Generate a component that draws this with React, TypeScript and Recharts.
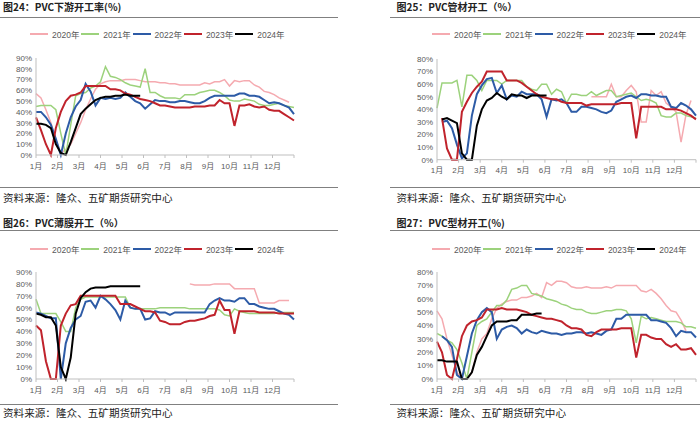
import React from 'react'
import { LineChart, Line, XAxis, YAxis } from 'recharts'

const months = ['1月', '2月', '3月', '4月', '5月', '6月', '7月', '8月', '9月', '10月', '11月', '12月']
const years = ['2020年', '2021年', '2022年', '2023年', '2024年']
const colors = ['#f5aab0', '#9cd27c', '#2d5ba6', '#c0232c', '#000000']
const widths = [1.5, 1.5, 2, 2, 2]

// weekly values, index = week of year (0..52); leading nulls where a year starts late
const at = (start: number, vals: number[]) => [...Array(start).fill(null), ...vals]

// 图24 PVC下游开工率
const down2020 = [57, 53, 42, 30, 14, 2, 5, 10, 20, 30, 42, 52, 61, 66, 68, 69, 69, 69, 70, 70, 70, 69, 68, 68, 68, 67, 67, 66, 66, 65, 65, 65, 65, 65, 67, 66, 68, 68, 70, 64, 69, 68, 69, 69, 65, 63, 59, 58, 56, 53, 51, 49]
const down2021 = [45, 46, 46, 46, 42, 20, 0, 28, 55, 57, 58, 62, 64, 68, 82, 73, 72, 70, 67, 65, 64, 63, 80, 58, 58, 55, 53, 53, 53, 52, 56, 56, 56, 58, 59, 60, 60, 58, 55, 51, 50, 50, 52, 51, 50, 47, 46, 46, 47, 48, 46, 45, 44]
const down2022 = [40, 40, 35, 28, 15, 0, 20, 35, 45, 51, 66, 59, 46, 53, 52, 53, 52, 53, 58, 54, 50, 48, 43, 47, 51, 50, 50, 49, 49, 50, 50, 49, 48, 48, 50, 53, 55, 55, 55, 55, 55, 57, 57, 55, 55, 54, 51, 48, 49, 48, 46, 44, 38]
const down2023 = [35, 23, 10, 0, 25, 40, 50, 55, 56, 58, 64, 64, 64, 64, 64, 61, 61, 60, 57, 56, 54, 52, 51, 50, 48, 46, 46, 45, 44, 44, 44, 44, 45, 45, 45, 46, 46, 51, 48, 48, 27, 46, 46, 47, 45, 44, 45, 42, 41, 41, 38, 35, 32]
const down2024 = [29, 29, 28, 25, 10, 2, 0, 12, 25, 38, 43, 47, 51, 53, 54, 54, 55, 55, 56, 55, 55, 55]

// 图25 PVC管材开工
const pipe2020 = at(31, [50, 50, 50, 50, 60, 50, 50, 55, 59, 54, 30, 30, 55, 51, 54, 45, 42, 38, 14, 36, 47])
const pipe2021 = [41, 61, 61, 61, 63, 42, 67, 67, 63, 55, 63, 63, 63, 60, 63, 63, 63, 63, 58, 56, 55, 60, 60, 52, 56, 54, 45, 52, 52, 51, 51, 54, 51, 53, 55, 55, 50, 51, 52, 53, 50, 47, 48, 47, 45, 35, 34, 34, 37, 37, 35, 34, 33]
const pipe2022 = at(1, [30, 31, 25, 12, 1, 5, 35, 52, 59, 64, 65, 53, 59, 48, 51, 50, 54, 52, 52, 52, 48, 34, 48, 47, 48, 45, 38, 38, 42, 42, 41, 40, 38, 37, 39, 46, 48, 50, 51, 49, 52, 52, 51, 51, 50, 50, 42, 41, 45, 43, 40, 35])
const pipe2023 = at(1, [33, 9, 0, 0, 38, 46, 53, 58, 62, 70, 70, 70, 70, 63, 63, 63, 61, 58, 55, 52, 50, 49, 48, 48, 46, 45, 45, 45, 45, 43, 44, 44, 44, 44, 44, 44, 45, 45, 45, 17, 42, 42, 42, 42, 42, 40, 40, 40, 39, 37, 35, 32])
const pipe2024 = at(1, [32, 33, 31, 29, 5, 0, 0, 27, 40, 47, 49, 53, 50, 48, 52, 51, 51, 49, 51, 51, 51, 51])

// 图26 PVC薄膜开工
const film2020 = at(31, [80, 79, 79, 79, 79, 80, 80, 80, 80, 76, 76, 76, 76, 76, 64, 64, 64, 64, 66, 66, 66])
const film2021 = [67, 55, 55, 55, 55, 48, 40, 40, 60, 67, 69, 69, 69, 69, 69, 69, 69, 69, 69, 60, 59, 59, 59, 59, 59, 60, 60, 60, 60, 60, 60, 59, 59, 59, 59, 59, 59, 58, 54, 53, 59, 57, 56, 55, 55, 55, 55, 55, 55, 56, 56, 56, 56]
const film2022 = [56, 55, 53, 51, 51, 0, 30, 43, 50, 53, 65, 66, 60, 70, 67, 63, 58, 50, 66, 60, 59, 59, 50, 51, 57, 56, 56, 54, 56, 56, 56, 56, 56, 56, 56, 63, 66, 68, 66, 66, 65, 68, 68, 63, 63, 61, 60, 59, 59, 57, 55, 54, 50]
const film2023 = [45, 41, 15, 0, 0, 45, 55, 62, 63, 70, 70, 70, 70, 70, 70, 70, 70, 63, 63, 63, 61, 59, 57, 57, 56, 49, 48, 46, 46, 46, 48, 49, 49, 50, 51, 53, 54, 66, 58, 58, 38, 57, 57, 57, 57, 56, 56, 56, 56, 55, 55, 55, 55]
const film2024 = [55, 54, 52, 52, 45, 10, 0, 18, 55, 68, 73, 76, 77, 77, 77, 78, 78, 78, 78, 78, 78, 78]

// 图27 PVC型材开工
const prof2020 = [51, 45, 30, 18, 5, 0, 0, 5, 20, 30, 34, 45, 53, 56, 58, 59, 59, 61, 61, 62, 64, 61, 72, 70, 73, 73, 72, 69, 68, 68, 69, 68, 68, 68, 69, 68, 70, 70, 70, 70, 70, 66, 65, 67, 64, 60, 55, 51, 50, 44, 36]
const prof2021 = [34, 32, 29, 27, 22, 12, 0, 20, 40, 43, 45, 50, 55, 55, 59, 67, 68, 70, 70, 64, 63, 62, 60, 59, 58, 56, 55, 53, 52, 52, 50, 49, 49, 50, 51, 51, 52, 52, 51, 45, 27, 47, 45, 46, 45, 44, 43, 43, 43, 42, 39, 39, 38]
const prof2022 = at(1, [32, 29, 24, 3, 0, 17, 34, 44, 50, 53, 50, 30, 37, 39, 40, 38, 34, 37, 35, 34, 36, 35, 34, 34, 33, 34, 34, 35, 35, 34, 35, 34, 33, 36, 37, 45, 45, 48, 48, 48, 48, 48, 44, 44, 43, 42, 38, 32, 36, 35, 35, 31])
const prof2023 = [28, 20, 3, 0, 15, 32, 40, 43, 44, 46, 52, 52, 52, 53, 52, 52, 52, 51, 50, 48, 47, 46, 45, 45, 44, 43, 40, 38, 38, 37, 33, 32, 35, 37, 37, 37, 37, 38, 38, 38, 16, 33, 33, 31, 30, 30, 26, 24, 26, 22, 22, 23, 18]
const prof2024 = [14, 14, 13, 13, 13, 0, 0, 5, 18, 24, 32, 40, 43, 43, 43, 44, 44, 48, 48, 48, 49, 49]

const monthTicks = [...months.map((_, i) => (i * 52) / 12), 52]

const cjk = '"Noto Sans CJK SC", sans-serif'
const latin = '"Liberation Sans", "Noto Sans CJK SC", sans-serif'

const panels = [
  { title: '图24：PVC下游开工率(%)', series: [down2020, down2021, down2022, down2023, down2024], yMax: 90,
    textX: 3, titleY: 7, ruleX: 0, ruleW: 338, topRule: 16.5, legendX: 30, legendY: 34.3,
    chartL: 0, chartW: 345, plotL: 36, plotR: 294, plotT: 58, plotB: 155, botRule: 187, sourceY: 197.7 },
  { title: '图25：PVC管材开工（%）', series: [pipe2020, pipe2021, pipe2022, pipe2023, pipe2024], yMax: 80,
    textX: 396.5, titleY: 7, ruleX: 390, ruleW: 310, topRule: 16.5, legendX: 432, legendY: 34.3,
    chartL: 400, chartW: 300, plotL: 437, plotR: 696, plotT: 59.3, plotB: 160, botRule: 187, sourceY: 197.7 },
  { title: '图26：PVC薄膜开工（%）', series: [film2020, film2021, film2022, film2023, film2024], yMax: 90,
    textX: 3, titleY: 222.7, ruleX: 0, ruleW: 338, topRule: 230, legendX: 30, legendY: 249.3,
    chartL: 0, chartW: 345, plotL: 36, plotR: 294, plotT: 272.3, plotB: 379.3, botRule: 404, sourceY: 413.3 },
  { title: '图27：PVC型材开工(%)', series: [prof2020, prof2021, prof2022, prof2023, prof2024], yMax: 80,
    textX: 396.5, titleY: 222.7, ruleX: 390, ruleW: 310, topRule: 230, legendX: 432, legendY: 249.3,
    chartL: 400, chartW: 300, plotL: 437, plotR: 696, plotT: 272.3, plotB: 379.3, botRule: 404, sourceY: 413.3 },
]

function Panel({ p }: { p: any }) {
  const data = Array.from({ length: 53 }, (_, w) => {
    const row: any = { w }
    p.series.forEach((s: (number | null)[], k: number) => {
      row['s' + k] = s[w] ?? null
    })
    return row
  })
  const yTicks = Array.from({ length: p.yMax / 10 + 1 }, (_, i) => i * 10)
  const chartT = p.plotT - 10
  const chartH = p.plotB - p.plotT + 35
  const margin = { top: 10, bottom: 5, left: p.plotL - p.chartL - 30, right: p.chartL + p.chartW - p.plotR }

  return (
    <>
      <div style={{ position: 'absolute', left: p.textX, top: p.titleY - 6, fontFamily: cjk, fontSize: 10, lineHeight: '12px', fontWeight: 700, color: '#222', whiteSpace: 'nowrap' }}>
        {p.title}
      </div>
      <div style={{ position: 'absolute', left: p.ruleX, top: p.topRule, width: p.ruleW, height: 1, background: '#808080' }} />
      {years.map((y, i) => (
        <div key={y} style={{ position: 'absolute', left: p.legendX + i * 51.3, top: p.legendY - 6, height: 12, display: 'flex', alignItems: 'center', whiteSpace: 'nowrap' }}>
          <div style={{ width: 18, height: 2, background: colors[i] }} />
          <span style={{ marginLeft: 4, fontFamily: latin, fontSize: 8.5, color: '#595959' }}>{y}</span>
        </div>
      ))}
      <div style={{ position: 'absolute', left: p.chartL, top: chartT }}>
        <LineChart width={p.chartW} height={chartH} data={data} margin={margin}>
          <XAxis
            dataKey="w"
            type="number"
            domain={[0, 52]}
            ticks={monthTicks}
            interval={0}
            tickFormatter={(v: number) => months[Math.round((v * 12) / 52)] ?? ''}
            height={20}
            tickSize={3}
            tickMargin={5}
            axisLine={{ stroke: '#bfbfbf' }}
            tickLine={{ stroke: '#bfbfbf' }}
            tick={{ fontSize: 8, fill: '#595959', fontFamily: latin }}
          />
          <YAxis
            type="number"
            domain={[0, p.yMax]}
            ticks={yTicks}
            interval={0}
            width={30}
            tickFormatter={(v: number) => `${v}%`}
            tickSize={4}
            tickMargin={0}
            tickLine={false}
            axisLine={{ stroke: '#bfbfbf' }}
            tick={{ fontSize: 8, fill: '#595959', fontFamily: latin }}
          />
          {years.map((y, i) => (
            <Line
              key={y}
              type="linear"
              dataKey={'s' + i}
              stroke={colors[i]}
              strokeWidth={widths[i]}
              dot={false}
              isAnimationActive={false}
            />
          ))}
        </LineChart>
      </div>
      <div style={{ position: 'absolute', left: p.ruleX, top: p.botRule, width: p.ruleW, height: 1, background: '#808080' }} />
      <div style={{ position: 'absolute', left: p.textX, top: p.sourceY - 6, fontFamily: cjk, fontSize: 10.6, lineHeight: '12px', color: '#222', whiteSpace: 'nowrap' }}>
        资料来源：隆众、五矿期货研究中心
      </div>
    </>
  )
}

export default function App() {
  return (
    <div style={{ position: 'absolute', left: 0, top: 0, width: 700, height: 421, background: '#fff', overflow: 'hidden' }}>
      {panels.map((p) => (
        <Panel key={p.title} p={p} />
      ))}
    </div>
  )
}
